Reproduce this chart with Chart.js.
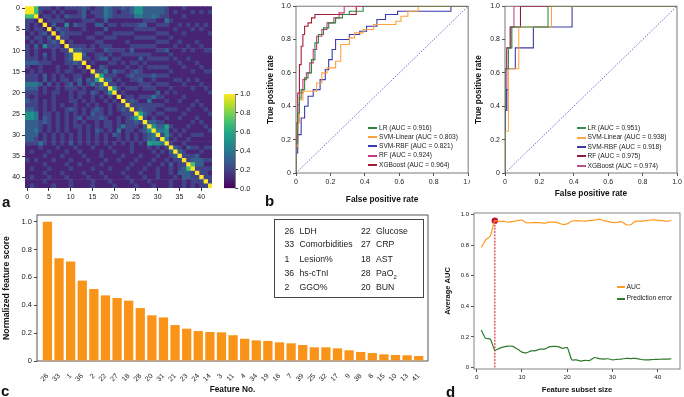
<!DOCTYPE html>
<html>
<head>
<meta charset="utf-8">
<script src="https://cdn.jsdelivr.net/npm/chart.js@4.4.1/dist/chart.umd.min.js"></script>
<style>
  body { margin:0; width:684px; height:397px; background:#fff; position:relative; overflow:hidden;
         font-family:"Liberation Sans", Arial, sans-serif; color:#222; }
  canvas { position:absolute; }
  .tag { position:absolute; font-weight:bold; font-size:15px; line-height:15px; color:#111; }
  .li { position:absolute; white-space:nowrap; color:#222; }
  .li i { display:inline-block; vertical-align:middle; height:2px; }
  #keybox { position:absolute; left:274px; top:219px; width:148px; height:77px; border:1px solid #444; }
  #keybox span { position:absolute; font-size:8.7px; line-height:10px; white-space:nowrap; }
</style>
</head>
<body>
<canvas id="heat" width="220" height="205" style="left:0;top:0"></canvas>
<canvas id="cbar" width="40" height="110" style="left:220px;top:85px"></canvas>
<canvas id="rocA" width="220" height="212" style="left:255px;top:0"></canvas>
<canvas id="rocB" width="214" height="212" style="left:470px;top:0;background:#fff"></canvas>
<canvas id="bars" width="434" height="192" style="left:0;top:205px"></canvas>
<canvas id="curve" width="244" height="192" style="left:440px;top:205px"></canvas>
<div id="keybox"></div>
<div class="tag" style="left:2px;top:194px">a</div>
<div class="tag" style="left:265px;top:193px">b</div>
<div class="tag" style="left:1px;top:383px">c</div>
<div class="tag" style="left:446px;top:384px">d</div>

<script>
// ---- panel a: correlation matrix (lower triangle, digit = value x10, a = 1.0) ----
const corrRows = [
  "a",
  "77",
  "221",
  "2121",
  "21221",
  "121231",
  "2122131",
  "12121232",
  "213152221",
  "2121112122",
  "2121312112 3",
  "2221212112 3a",
  "3332221112 232",
  "2112111211 2121",
  "1212111212 21121",
  "2221312121 122112",
  "2221312122 1231326",
  "4443131212 31312423",
  "3331211212 221211232",
  "2221212211 2122132125",
  "2121112111 2121121212 1",
  "3221212111 2212121121 21",
  "2221212121 1211212112 122",
  "3321212112 3212123212 1232",
  "5541221212 1212132212 11222",
  "5541321212 1231222321 121236",
  "3332321212 1212112122 1212232",
  "3332121212 1221212122 12422213",
  "3342121212 1121213212 141221235",
  "3331212121 2121212121 3212121234",
  "3321212121 2121212121 1212121234 2",
  "2224212121 3121212121 2121212165 54",
  "1112111211 1211121112 1111211121 212",
  "1211121112 1121111211 2111211112 1213",
  "1111211121 1112111211 1121112111 21123",
  "2121112111 2111211121 1211121112 112122",
  "1111211112 1121111211 1111211121 1213122",
  "1211121111 2111121112 1112111211 21121237",
  "1111211121 1112111211 1121112111 211213332",
  "1211121112 1111211121 1112111211 2111213322",
  "1111211111 2111121112 1111211121 11121121222",
  "1211112111 2111121111 2111121112 111211212122"
];
const heatLabels = Array.from({ length: 43 }, (_, i) => String(i));
const heatTicks = [0, 5, 10, 15, 20, 25, 30, 35, 40];
const cbarTicks = [0, 0.2, 0.4, 0.6, 0.8, 1.0];
const viridis = ['#440154', '#482475', '#414487', '#355f8d', '#2a788e', '#21918c',
                 '#22a884', '#44bf70', '#7ad151', '#bddf26', '#fde725'];

// ---- panel b: ROC curves, left (a) and right (b) ----
const rocLabelsA = ['LR (AUC = 0.916)', 'SVM-Linear (AUC = 0.803)', 'SVM-RBF (AUC = 0.821)', 'RF (AUC = 0.924)', 'XGBoost (AUC = 0.964)'];
const rocLabelsB = ['LR (AUC = 0.951)', 'SVM-Linear (AUC = 0.938)', 'SVM-RBF (AUC = 0.918)', 'RF (AUC = 0.975)', 'XGBoost (AUC = 0.974)'];
const rocColorsA = ['#2e8540', '#ffa040', '#3a3ab0', '#c8387a', '#a41d36'];
const rocColorsB = ['#3a8c50', '#ffa64d', '#3c3ca0', '#8e1c3c', '#c0508c'];

const fprA_LR   = [0,0,0.01,0.01,0.02,0.02,0.03,0.03,0.05,0.05,0.07,0.07,0.09,0.09,0.11,0.11,0.13,0.13,0.16,0.16,0.19,0.19,0.23,0.23,0.27,0.27,0.31,0.31,0.39,0.39,1];
const tprA_LR   = [0,0.18,0.18,0.36,0.36,0.45,0.45,0.5,0.5,0.57,0.57,0.6,0.6,0.68,0.68,0.78,0.78,0.83,0.83,0.87,0.87,0.9,0.9,0.93,0.93,0.95,0.95,0.97,0.97,1,1];
const fprA_SVML = [0,0,0.01,0.01,0.02,0.02,0.04,0.04,0.12,0.12,0.15,0.15,0.18,0.18,0.23,0.23,0.26,0.26,0.31,0.31,0.34,0.34,0.39,0.39,0.45,0.45,0.58,0.58,0.61,0.61,0.65,0.65,0.71,0.71,1];
const tprA_SVML = [0,0.16,0.16,0.3,0.3,0.44,0.44,0.49,0.49,0.54,0.54,0.6,0.6,0.63,0.63,0.67,0.67,0.77,0.77,0.81,0.81,0.84,0.84,0.86,0.86,0.89,0.89,0.91,0.91,0.94,0.94,0.97,0.97,1,1];
const fprA_SVMR = [0,0,0.01,0.01,0.03,0.03,0.05,0.05,0.07,0.07,0.1,0.1,0.14,0.14,0.17,0.17,0.19,0.19,0.21,0.21,0.23,0.23,0.31,0.31,0.37,0.37,0.41,0.41,0.47,0.47,0.52,0.52,0.59,0.59,0.9,0.9,1];
const tprA_SVMR = [0,0.12,0.12,0.23,0.23,0.33,0.33,0.4,0.4,0.46,0.46,0.5,0.5,0.56,0.56,0.62,0.62,0.68,0.68,0.74,0.74,0.8,0.8,0.83,0.83,0.85,0.85,0.88,0.88,0.92,0.92,0.95,0.95,0.97,0.97,1,1];
const fprA_RF   = [0,0,0.01,0.01,0.02,0.02,0.04,0.04,0.06,0.06,0.08,0.08,0.1,0.1,0.12,0.12,0.15,0.15,0.18,0.18,0.22,0.22,0.25,0.25,0.28,0.28,1];
const tprA_RF   = [0,0.22,0.22,0.41,0.41,0.48,0.48,0.56,0.56,0.6,0.6,0.66,0.66,0.74,0.74,0.82,0.82,0.86,0.86,0.9,0.9,0.93,0.93,0.96,0.96,1,1];
const fprA_XGB  = [0,0,0.01,0.01,0.02,0.02,0.03,0.03,0.04,0.04,0.05,0.05,0.07,0.07,0.09,0.09,0.11,0.11,0.35,0.35,1];
const tprA_XGB  = [0,0.3,0.3,0.48,0.48,0.65,0.65,0.76,0.76,0.83,0.83,0.88,0.88,0.9,0.9,0.93,0.93,0.95,0.95,1,1];

const fprB_LR   = [0,0,0.02,0.02,0.04,0.04,0.25,0.25,1];
const tprB_LR   = [0,0.625,0.625,0.75,0.75,0.875,0.875,1,1];
const fprB_SVML = [0,0,0.02,0.02,0.08,0.08,0.27,0.27,1];
const tprB_SVML = [0,0.25,0.25,0.625,0.625,0.875,0.875,1,1];
const fprB_SVMR = [0,0,0.01,0.01,0.02,0.02,0.06,0.06,0.165,0.165,0.39,0.39,1];
const tprB_SVMR = [0,0.375,0.375,0.5,0.5,0.625,0.625,0.75,0.75,0.875,0.875,1,1];
const fprB_RF   = [0,0,0.01,0.01,0.03,0.03,0.09,0.09,1];
const tprB_RF   = [0,0.625,0.625,0.75,0.75,0.875,0.875,1,1];
const fprB_XGB  = [0,0,0.01,0.01,0.02,0.02,0.035,0.035,0.052,0.052,1];
const tprB_XGB  = [0,0.375,0.375,0.625,0.625,0.75,0.75,0.875,0.875,1,1];
const rocTicks = [0, 0.2, 0.4, 0.6, 0.8, 1.0];

// ---- panel c: feature ranking ----
const featureNo = ['26','33','1','36','2','22','27','18','28','20','31','21','23','24','14','3','11',
                   '4','34','19','16','7','39','25','32','17','9','38','6','15','10','13','41'];
const featureScore = [1.0,0.737,0.715,0.577,0.517,0.471,0.452,0.433,0.38,0.328,0.313,0.258,0.232,0.215,0.208,0.206,0.185,
                      0.16,0.148,0.144,0.134,0.127,0.115,0.098,0.098,0.091,0.077,0.065,0.057,0.048,0.043,0.041,0.036];
const keyNo = ['26','33','1','36','2','22','27','18','28','20'];
const keyName = ['LDH','Comorbidities','Lesion%','hs-cTnI','GGO%','Glucose','CRP','AST','PaO<sub style="font-size:6px">2</sub>','BUN'];
const scoreTicks = [0, 0.2, 0.4, 0.6, 0.8, 1.0];

// ---- panel d: subset size curve ----
const subsetSize = Array.from({ length: 43 }, (_, i) => i + 1);
const aucBySize = [0.785,0.835,0.86,0.96,0.955,0.955,0.95,0.955,0.96,0.963,0.945,0.947,0.947,0.947,0.943,0.95,0.95,0.945,0.935,0.94,
                   0.958,0.96,0.958,0.957,0.962,0.963,0.97,0.96,0.955,0.948,0.948,0.953,0.935,0.933,0.955,0.957,0.958,0.962,0.965,0.962,
                   0.96,0.955,0.963];
const errBySize = [0.245,0.19,0.186,0.112,0.125,0.135,0.14,0.138,0.12,0.1,0.096,0.108,0.11,0.12,0.12,0.135,0.138,0.136,0.125,0.13,
                   0.05,0.05,0.042,0.046,0.046,0.065,0.058,0.055,0.057,0.05,0.053,0.055,0.06,0.058,0.06,0.055,0.05,0.05,0.052,0.053,
                   0.055,0.055,0.057];
const bestSize = 4;
const curveXTicks = [0, 10, 20, 30, 40];
const curveYTicks = [0, 0.2, 0.4, 0.6, 0.8, 1.0];

// ---------------------------------------------------------------
Chart.defaults.font.family = "'Liberation Sans', Arial, sans-serif";
Chart.defaults.color = '#222';
Chart.defaults.animation = false;
Chart.defaults.responsive = false;
Chart.defaults.plugins.legend.display = false;
Chart.defaults.plugins.tooltip.enabled = false;

const setTicks = vals => s => { s.ticks = vals.map(v => ({ value: v })); };
const fmt1 = v => (v === 0 ? '0' : v.toFixed(1));

// box round the plot area
const frame = {
  id: 'frame',
  beforeDatasetsDraw(chart, args, opts) {
    const { ctx, chartArea: a } = chart;
    ctx.save();
    ctx.strokeStyle = opts.color || '#444';
    ctx.lineWidth = opts.width || 0.8;
    ctx.strokeRect(a.left, a.top, a.right - a.left, a.bottom - a.top);
    ctx.restore();
  }
};

function corr(i, j) {
  if (i === j) return 1;
  const row = corrRows[Math.max(i, j) - 1].replace(/ /g, '');
  const c = row[Math.min(i, j)];
  return c === 'a' ? 1 : parseInt(c, 10) / 10;
}
function viridisColor(v) {
  return viridis[Math.round(v * 10)];
}

// panel a heatmap: one stacked horizontal bar per column
const heatSets = heatLabels.map((_, j) => ({
  data: heatLabels.map(() => 1),
  backgroundColor: heatLabels.map((_, i) => viridisColor(corr(i, j))),
  borderWidth: 0,
  barPercentage: 1,
  categoryPercentage: 1
}));
new Chart(document.getElementById('heat'), {
  type: 'bar',
  data: { labels: heatLabels, datasets: heatSets },
  options: {
    indexAxis: 'y',
    layout: { padding: { top: 2, right: 8 } },
    scales: {
      x: {
        type: 'linear', stacked: true, min: 0, max: 43,
        afterBuildTicks: setTicks(heatTicks.map(v => v + 0.5)),
        ticks: { callback: v => String(v - 0.5), font: { size: 7 }, padding: 2, maxRotation: 0, autoSkip: false },
        grid: { drawOnChartArea: false, tickLength: 3, color: '#333' },
        border: { display: false },
        afterFit: s => { s.height = 17; }
      },
      y: {
        stacked: true,
        ticks: { callback: (v) => (v % 5 === 0 ? heatLabels[v] : ''), font: { size: 7 }, padding: 2, autoSkip: false },
        grid: { offset: false, drawOnChartArea: false, tickLength: 3,
                color: c => (c.index % 5 === 0 ? '#333' : 'rgba(0,0,0,0)') },
        border: { display: false },
        afterFit: s => { s.width = 25; }
      }
    }
  }
});

// colour bar
new Chart(document.getElementById('cbar'), {
  type: 'bar',
  data: {
    labels: [''],
    datasets: [{
      data: [[0, 1]],
      barPercentage: 1, categoryPercentage: 1, borderWidth: 0,
      backgroundColor: ctx => {
        const a = ctx.chart.chartArea;
        if (!a) return viridis[5];
        const g = ctx.chart.ctx.createLinearGradient(0, a.bottom, 0, a.top);
        viridis.forEach((c, k) => g.addColorStop(k / (viridis.length - 1), c));
        return g;
      }
    }]
  },
  options: {
    layout: { padding: { left: 4, top: 9, bottom: 6 } },
    scales: {
      x: { display: false },
      y: {
        position: 'right', min: 0, max: 1,
        afterBuildTicks: setTicks(cbarTicks),
        ticks: { callback: v => v.toFixed(1), font: { size: 7.5 }, padding: 2 },
        grid: { drawOnChartArea: false, tickLength: 3, color: '#333' },
        border: { color: '#333', width: 0.6 },
        afterFit: s => { s.width = 25; }
      }
    }
  }
});

// panel b ROC charts
function rocChart(id, fprs, tprs, colors, labels, opt) {
  const sets = fprs.map((f, k) => ({
    label: labels[k],
    data: f.map((x, i) => ({ x: x, y: tprs[k][i] })),
    borderColor: colors[k], borderWidth: 1.1, pointRadius: 0, tension: 0
  }));
  sets.unshift({ data: [{ x: 0, y: 0 }, { x: 1, y: 1 }], borderColor: '#4848c4', borderWidth: 0.8,
                 borderDash: [1.5, 1.5], pointRadius: 0 });
  new Chart(document.getElementById(id), {
    type: 'line',
    data: { datasets: sets },
    plugins: [frame],
    options: {
      layout: { padding: { top: 3, right: opt.padRight } },
      plugins: { frame: { color: '#555', width: 0.8 } },
      scales: {
        x: {
          type: 'linear', min: 0, max: 1,
          afterBuildTicks: setTicks(rocTicks),
          ticks: { callback: fmt1, font: { size: 7 }, padding: 2, maxRotation: 0 },
          grid: { drawOnChartArea: false, tickLength: 3, color: '#555' },
          border: { display: false },
          title: { display: true, text: 'False positive rate', font: { size: 8.3, weight: 'bold' },
                   color: '#111', padding: { top: 0, bottom: opt.xTitlePad } },
          afterFit: s => { s.height = 39; }
        },
        y: {
          type: 'linear', min: 0, max: 1,
          afterBuildTicks: setTicks(rocTicks),
          ticks: { callback: fmt1, font: { size: 7 }, padding: 2 },
          grid: { drawOnChartArea: false, tickLength: 3, color: '#555' },
          border: { display: false },
          title: { display: true, text: 'True positive rate', font: { size: 8.3, weight: 'bold' },
                   color: '#111', padding: { top: opt.yTitlePad, bottom: 0 } },
          afterFit: s => { s.width = opt.yWidth; }
        }
      }
    }
  });
}
rocChart('rocA',
  [fprA_LR, fprA_SVML, fprA_SVMR, fprA_RF, fprA_XGB],
  [tprA_LR, tprA_SVML, tprA_SVMR, tprA_RF, tprA_XGB],
  rocColorsA, rocLabelsA, { padRight: 6, yWidth: 41, xTitlePad: 7, yTitlePad: 11 });
rocChart('rocB',
  [fprB_LR, fprB_SVML, fprB_SVMR, fprB_RF, fprB_XGB],
  [tprB_LR, tprB_SVML, tprB_SVMR, tprB_RF, tprB_XGB],
  rocColorsB, rocLabelsB, { padRight: 7, yWidth: 35, xTitlePad: 13.5, yTitlePad: 3.5 });

// legends as small html lists
function addLegend(x, y, dy, names, colors, lineW, size) {
  names.forEach((n, k) => {
    const d = document.createElement('div');
    d.className = 'li';
    d.style.left = x + 'px';
    d.style.top = (y + k * dy - 5) + 'px';
    d.style.fontSize = size + 'px';
    d.style.lineHeight = '10px';
    d.innerHTML = '<i style="width:' + lineW + 'px;background:' + colors[k] + ';margin-right:2px"></i>' + n;
    document.body.appendChild(d);
  });
}
addLegend(368, 127.7, 9.25, rocLabelsA, rocColorsA, 9, 6.6);
addLegend(577, 128, 9.4, rocLabelsB, rocColorsB, 8.5, 6.6);

// panel c bars
new Chart(document.getElementById('bars'), {
  type: 'bar',
  data: {
    datasets: [{
      data: featureScore.map((v, i) => ({ x: i, y: v })),
      backgroundColor: '#fa9419', borderWidth: 0,
      barPercentage: 0.8, categoryPercentage: 1
    }]
  },
  plugins: [frame],
  options: {
    layout: { padding: { top: 10, right: 6 } },
    plugins: { frame: { color: '#444', width: 0.9 } },
    scales: {
      x: {
        type: 'linear', min: -0.9, max: 32.8, offset: false,
        afterBuildTicks: setTicks(featureNo.map((_, i) => i)),
        ticks: { callback: v => featureNo[v], font: { size: 7 }, padding: 3, minRotation: 45, maxRotation: 45, autoSkip: false },
        grid: { display: false },
        border: { display: false },
        title: { display: true, text: 'Feature No.', font: { size: 8.3, weight: 'bold' }, color: '#111',
                 padding: { top: 0, bottom: 2.8 } },
        afterFit: s => { s.height = 36; }
      },
      y: {
        min: 0, max: 1.048,
        afterBuildTicks: setTicks(scoreTicks),
        ticks: { callback: fmt1, font: { size: 7.5 }, padding: 2 },
        grid: { drawOnChartArea: false, tickLength: 3, color: '#444' },
        border: { display: false },
        title: { display: true, text: 'Normalized feature score', font: { size: 8.7, weight: 'bold' }, color: '#111',
                 padding: { top: 1.3, bottom: 0 } },
        afterFit: s => { s.width = 37; }
      }
    }
  }
});

// key box of top ten features
const keyBox = document.getElementById('keybox');
const keyRowY = [11.7, 25.3, 40, 54.3, 68.3];
keyNo.forEach((n, k) => {
  const col = k < 5 ? 0 : 1, row = k % 5;
  const a = document.createElement('span');
  a.style.left = (col ? 86 : 9.5) + 'px';
  a.style.top = (keyRowY[row] - 6) + 'px';
  a.textContent = n;
  const b = document.createElement('span');
  b.style.left = (col ? 101 : 24.5) + 'px';
  b.style.top = (keyRowY[row] - 6) + 'px';
  b.innerHTML = keyName[k];
  keyBox.appendChild(a);
  keyBox.appendChild(b);
});

// panel d curves
new Chart(document.getElementById('curve'), {
  type: 'line',
  data: {
    datasets: [
      { data: subsetSize.map((x, i) => ({ x: x, y: aucBySize[i] })), borderColor: '#ff9a1f', borderWidth: 1.2, pointRadius: 0, tension: 0.2 },
      { data: subsetSize.map((x, i) => ({ x: x, y: errBySize[i] })), borderColor: '#2d7a2d', borderWidth: 1.2, pointRadius: 0, tension: 0.2 },
      { data: [{ x: bestSize, y: 0 }, { x: bestSize, y: aucBySize[bestSize - 1] }],
        borderColor: '#e8505a', borderWidth: 1.4, borderDash: [2, 1.2],
        pointRadius: [0, 3.2], pointBackgroundColor: '#c8103c', pointBorderWidth: 0 }
    ]
  },
  plugins: [frame],
  options: {
    layout: { padding: { top: 8, right: 2 } },
    plugins: { frame: { color: '#666', width: 0.8 } },
    scales: {
      x: {
        type: 'linear', min: -0.6, max: 44.9,
        afterBuildTicks: setTicks(curveXTicks),
        ticks: { font: { size: 6.2 }, padding: 2, maxRotation: 0 },
        grid: { drawOnChartArea: false, tickLength: 3, color: '#555' },
        border: { display: false },
        title: { display: true, text: 'Feature subset size', font: { size: 7.6, weight: 'bold' }, color: '#111',
                 padding: { top: 0, bottom: 2.4 } },
        afterFit: s => { s.height = 28; }
      },
      y: {
        type: 'linear', min: -0.01, max: 1.01,
        afterBuildTicks: setTicks(curveYTicks),
        ticks: { callback: fmt1, font: { size: 6 }, padding: 2 },
        grid: { drawOnChartArea: false, tickLength: 3, color: '#555' },
        border: { display: false },
        title: { display: true, text: 'Average AUC', font: { size: 7.5, weight: 'bold' }, color: '#111',
                 padding: { top: 3, bottom: 0 } },
        afterFit: s => { s.width = 34; }
      }
    }
  }
});
addLegend(617, 286.7, 11.6, ['AUC', 'Prediction error'], ['#ff9a1f', '#2d7a2d'], 7.5, 6.7);
</script>
</body>
</html>
